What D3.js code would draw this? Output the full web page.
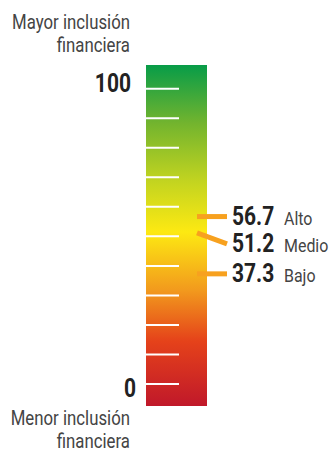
<!DOCTYPE html>
<html>
<head>
<meta charset="utf-8">
<script src="https://cdn.jsdelivr.net/npm/d3@7"></script>
<style>
  body { margin: 0; background: #fff; }
  text { font-family: "Roboto", "Liberation Sans", sans-serif; }
</style>
</head>
<body>
<div id="chart"></div>
<script>
const tickValues = d3.range(0, 101, 10);
const endLabels = [100, 0];
const levelNames = ["Alto", "Medio", "Bajo"];
const levelValues = [56.7, 51.2, 37.3];
const labelShift = [0, 11, 0];   // vertical offset of the label from its marker
const gradStops = [
  [0, "#079c48"], [0.17, "#72b42e"], [0.34, "#c2d420"], [0.49, "#fde912"],
  [0.66, "#f29a1d"], [0.81, "#e5421a"], [1, "#c0182a"]
];

const width = 332, height = 453;
const barX = 146, barW = 61, barTop = 65, barBottom = 406;
const squeeze = 0.84;   // narrow the glyphs, the original face is condensed

const svg = d3.select("#chart").append("svg")
    .attr("width", width)
    .attr("height", height);

const y = d3.scaleLinear().domain([0, 100]).range([384, 88.7]);
const place = (x, yy) => "translate(" + x + "," + yy + ") scale(" + squeeze + ",1)";

const grad = svg.append("defs").append("linearGradient")
    .attr("id", "scaleGrad")
    .attr("x1", 0).attr("y1", 0).attr("x2", 0).attr("y2", 1);
grad.selectAll("stop")
    .data(gradStops)
  .enter()
    .append("stop")
    .attr("offset", d => d[0])
    .attr("stop-color", d => d[1]);

svg.append("rect")
    .attr("x", barX).attr("y", barTop)
    .attr("width", barW).attr("height", barBottom - barTop)
    .style("fill", "url(#scaleGrad)");

svg.selectAll(".tick")
    .data(tickValues)
  .enter()
    .append("line")
    .attr("x1", barX).attr("x2", barX + 33)
    .attr("y1", d => y(d)).attr("y2", d => y(d))
    .style("stroke", "#fff")
    .style("stroke-width", 2);

svg.selectAll(".end-label")
    .data(endLabels)
  .enter()
    .append("text")
    .attr("transform", d => place(d ? 131 : 136, y(d) + (d ? 3 : 13)))
    .attr("text-anchor", "end")
    .style("font-size", "25px")
    .style("font-weight", "bold")
    .style("fill", "#222")
    .text(d => d);

// top / bottom captions
const captions = [
  {lines: ["Mayor inclusión", "financiera"], y: 29},
  {lines: ["Menor inclusión", "financiera"], y: 425}
];
captions.forEach(c => {
  svg.append("g").selectAll("text")
      .data(c.lines)
    .enter()
      .append("text")
      .attr("transform", (d, i) => place(130, c.y + i * 22.5))
      .attr("text-anchor", "end")
      .style("font-size", "20px")
      .style("fill", "#444")
      .text(d => d);
});

// level markers
const levels = svg.append("g");
levels.selectAll("line")
    .data(levelValues)
  .enter()
    .append("line")
    .attr("x1", 197).attr("x2", 227)
    .attr("y1", d => y(d))
    .attr("y2", (d, i) => y(d) + labelShift[i])
    .style("stroke", "#f7a11f")
    .style("stroke-width", 5);

levels.selectAll(".val")
    .data(levelValues)
  .enter()
    .append("text")
    .attr("transform", (d, i) => place(232, y(d) + labelShift[i] + 8.5))
    .style("font-size", "25px")
    .style("font-weight", "bold")
    .style("fill", "#222")
    .text(d => d.toFixed(1));

levels.selectAll(".name")
    .data(levelNames)
  .enter()
    .append("text")
    .attr("transform", (d, i) => place(284, y(levelValues[i]) + labelShift[i] + 8.5))
    .style("font-size", "19px")
    .style("fill", "#444")
    .text(d => d);
</script>
</body>
</html>
